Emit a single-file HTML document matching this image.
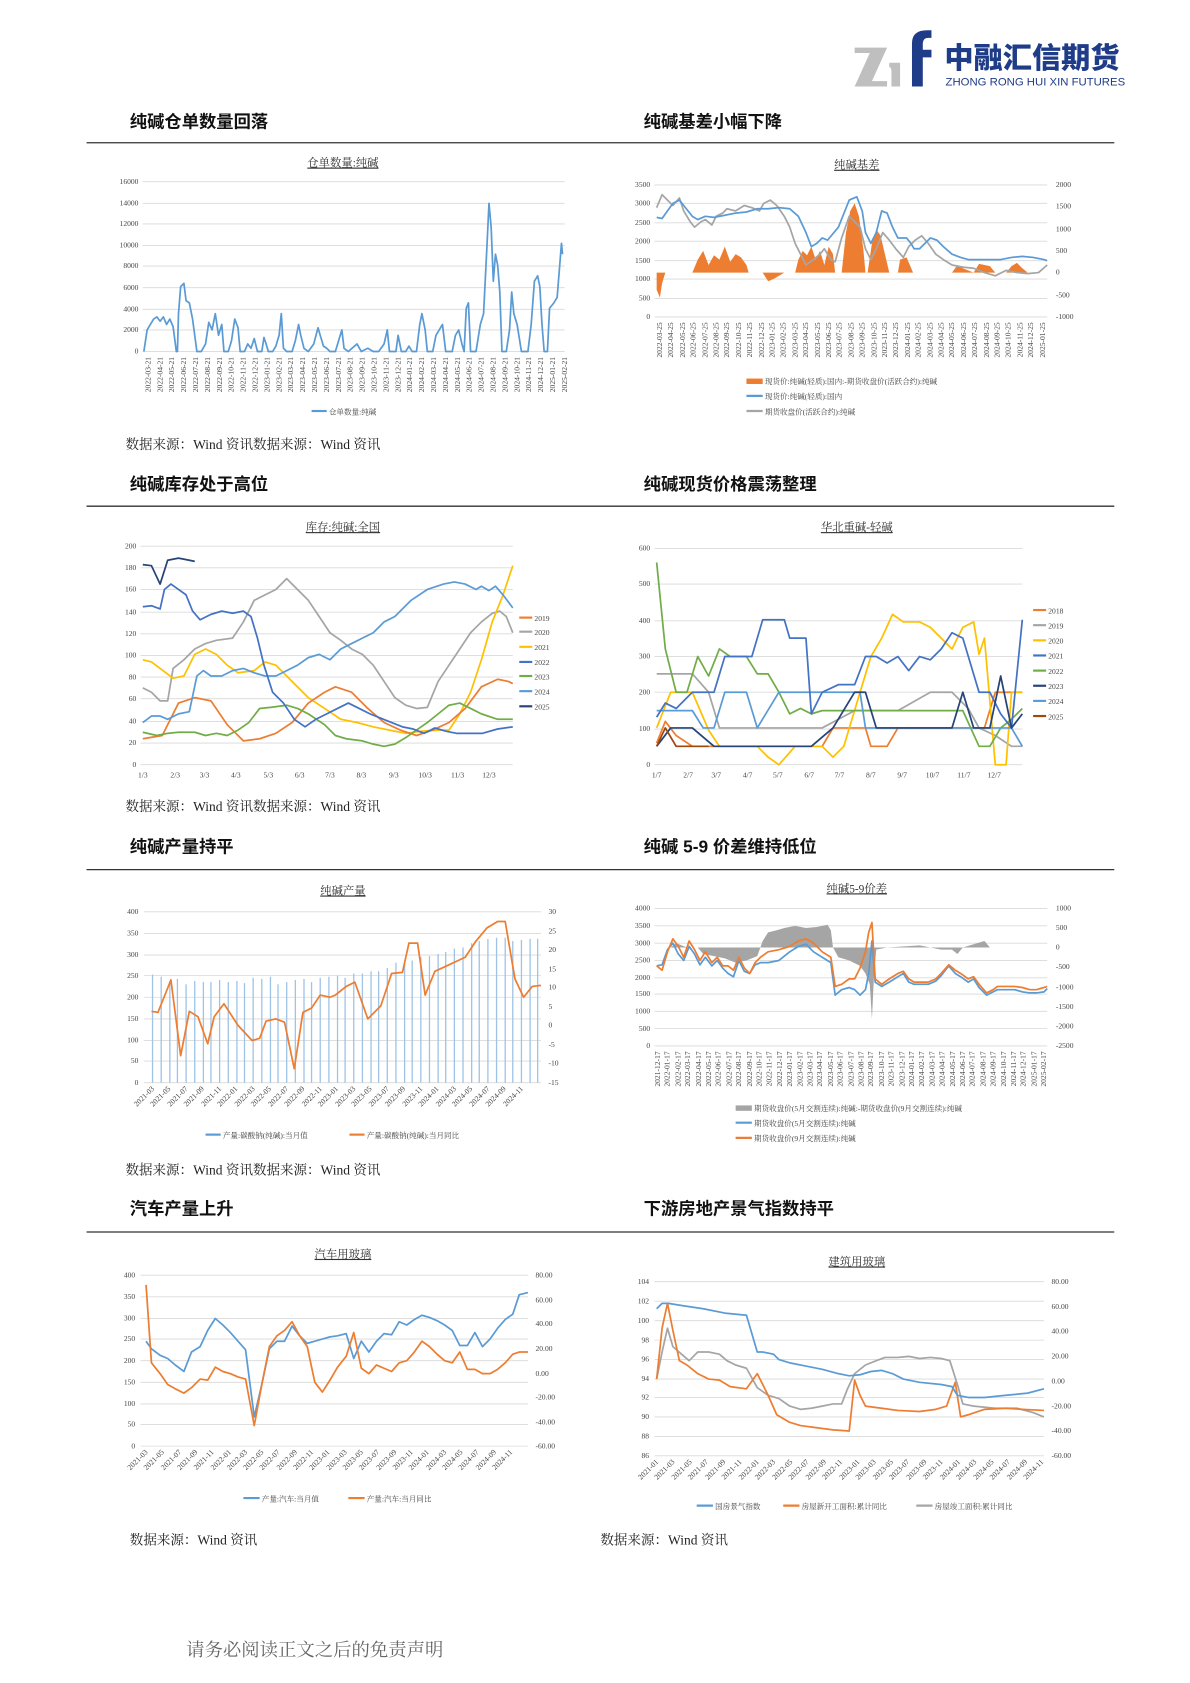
<!DOCTYPE html>
<html><head><meta charset="utf-8">
<style>
html,body{margin:0;padding:0;background:#fff;}
svg{display:block;}
.t{font-family:"Liberation Sans","Noto Sans CJK SC",sans-serif;font-weight:bold;font-size:16px;fill:#111;}
.s{font-family:"Liberation Serif","Noto Serif CJK SC",serif;font-size:12.5px;fill:#222;}
.ct{font-family:"Liberation Serif","Noto Serif CJK SC",serif;font-size:10.5px;fill:#333;text-decoration:underline;}
.a{font-family:"Liberation Serif","Noto Serif CJK SC",serif;font-size:7px;fill:#444;}
.l{font-family:"Liberation Serif","Noto Serif CJK SC",serif;font-size:7px;fill:#444;}
.g{stroke:#d9d9d9;stroke-width:0.8;}
.ln{fill:none;stroke-width:1.6;stroke-linejoin:round;}
</style></head><body>
<svg width="1190" height="1683" viewBox="0 0 1100 1556" preserveAspectRatio="none" xmlns="http://www.w3.org/2000/svg">
<!-- logo -->
<polygon points="790,44 820,44 806,75 820,75 820,80 790,80 804,49 790,49" fill="#bfbfbf"/>
<path d="M822,58 h10 v22 h-8 v-14 q0,-4 -2,-4z" fill="#bfbfbf"/>
<path d="M843,80 V40 q0,-12 14,-12 h4 v7 h-3 q-5,0 -5,6 v5 h8 v7 h-8 v27z" fill="#1f3c88"/>
<text x="873" y="63" style="font-family:'Noto Sans CJK SC',sans-serif;font-weight:900;font-size:27px;fill:#1f3c88">中融汇信期货</text>
<text x="874" y="79" style="font-family:'Liberation Sans',sans-serif;font-size:10.5px;fill:#1f3c88">ZHONG RONG HUI XIN FUTURES</text>

<!-- titles -->
<text class="t" x="120" y="118">纯碱仓单数量回落</text>
<text class="t" x="595" y="118">纯碱基差小幅下降</text>
<line x1="80" y1="132" x2="1030" y2="132" stroke="#333" stroke-width="1.2"/>
<text class="t" x="120" y="453">纯碱库存处于高位</text>
<text class="t" x="595" y="453">纯碱现货价格震荡整理</text>
<line x1="80" y1="468" x2="1030" y2="468" stroke="#333" stroke-width="1.2"/>
<text class="t" x="120" y="788">纯碱产量持平</text>
<text class="t" x="595" y="788">纯碱 5-9 价差维持低位</text>
<line x1="80" y1="804" x2="1030" y2="804" stroke="#333" stroke-width="1.2"/>
<text class="t" x="120" y="1123">汽车产量上升</text>
<text class="t" x="595" y="1123">下游房地产景气指数持平</text>
<line x1="80" y1="1139" x2="1030" y2="1139" stroke="#333" stroke-width="1.2"/>

<text class="s" x="116" y="415">数据来源：Wind 资讯数据来源：Wind 资讯</text>
<text class="s" x="116" y="750">数据来源：Wind 资讯数据来源：Wind 资讯</text>
<text class="s" x="116" y="1086">数据来源：Wind 资讯数据来源：Wind 资讯</text>
<text class="s" x="120" y="1428">数据来源：Wind 资讯</text>
<text class="s" x="555" y="1428">数据来源：Wind 资讯</text>
<text x="172" y="1531" style="font-family:'Liberation Serif','Noto Serif CJK SC',serif;font-size:17px;fill:#666">请务必阅读正文之后的免责声明</text>

<!-- ===== Chart 1 ===== -->
<text class="ct" x="317" y="154" text-anchor="middle">仓单数量:纯碱</text>
<g class="g"><line x1="132" x2="522" y1="168" y2="168"/><line x1="132" x2="522" y1="188" y2="188"/><line x1="132" x2="522" y1="207" y2="207"/><line x1="132" x2="522" y1="227" y2="227"/><line x1="132" x2="522" y1="246" y2="246"/><line x1="132" x2="522" y1="266" y2="266"/><line x1="132" x2="522" y1="286" y2="286"/><line x1="132" x2="522" y1="305" y2="305"/><line x1="132" x2="522" y1="325" y2="325"/></g>
<g class="a" text-anchor="end"><text x="128" y="170">16000</text><text x="128" y="190">14000</text><text x="128" y="209">12000</text><text x="128" y="229">10000</text><text x="128" y="248">8000</text><text x="128" y="268">6000</text><text x="128" y="288">4000</text><text x="128" y="307">2000</text><text x="128" y="327">0</text></g>
<polyline class="ln" stroke="#5B9BD5" points="133,325 136,305 139,300 142,295 145,293 148,297 151,293 154,300 157,295 160,302 163,325 164,325 165,290 167,265 170,262 172,278 175,280 178,295 180,310 182,325 186,325 190,318 193,298 196,305 199,290 202,310 205,300 207,325 211,325 214,315 217,295 220,303 222,325 226,325 229,318 232,322 235,313 238,325 242,325 244,312 246,318 248,325 252,325 255,320 258,310 260,290 262,322 265,325 270,325 273,315 276,300 278,310 281,322 285,325 290,318 294,303 296,310 299,320 302,322 305,325 310,325 313,315 316,305 318,322 322,325 330,318 334,325 340,322 345,325 350,325 355,318 358,305 360,325 366,325 368,310 371,325 375,325 378,320 381,325 385,325 388,300 390,290 393,305 395,325 400,325 403,310 406,305 409,300 412,325 418,325 421,310 424,305 427,318 429,325 431,285 433,280 435,325 440,325 444,300 447,290 450,230 452,188 454,210 456,260 458,235 460,245 462,270 464,325 468,325 471,305 473,270 475,290 478,300 482,325 488,325 491,300 494,260 497,255 499,265 501,300 503,325 506,325 508,285 512,280 515,275 517,250 519,225 520,235"/>
<g class="a">
<text transform="translate(139,330) rotate(-90)" text-anchor="end">2022-03-21</text><text transform="translate(150,330) rotate(-90)" text-anchor="end">2022-04-21</text><text transform="translate(161,330) rotate(-90)" text-anchor="end">2022-05-21</text><text transform="translate(172,330) rotate(-90)" text-anchor="end">2022-06-21</text><text transform="translate(183,330) rotate(-90)" text-anchor="end">2022-07-21</text><text transform="translate(194,330) rotate(-90)" text-anchor="end">2022-08-21</text><text transform="translate(205,330) rotate(-90)" text-anchor="end">2022-09-21</text><text transform="translate(216,330) rotate(-90)" text-anchor="end">2022-10-21</text><text transform="translate(227,330) rotate(-90)" text-anchor="end">2022-11-21</text><text transform="translate(238,330) rotate(-90)" text-anchor="end">2022-12-21</text><text transform="translate(249,330) rotate(-90)" text-anchor="end">2023-01-21</text><text transform="translate(260,330) rotate(-90)" text-anchor="end">2023-02-21</text><text transform="translate(271,330) rotate(-90)" text-anchor="end">2023-03-21</text><text transform="translate(282,330) rotate(-90)" text-anchor="end">2023-04-21</text><text transform="translate(293,330) rotate(-90)" text-anchor="end">2023-05-21</text><text transform="translate(304,330) rotate(-90)" text-anchor="end">2023-06-21</text><text transform="translate(315,330) rotate(-90)" text-anchor="end">2023-07-21</text><text transform="translate(326,330) rotate(-90)" text-anchor="end">2023-08-21</text><text transform="translate(337,330) rotate(-90)" text-anchor="end">2023-09-21</text><text transform="translate(348,330) rotate(-90)" text-anchor="end">2023-10-21</text><text transform="translate(359,330) rotate(-90)" text-anchor="end">2023-11-21</text><text transform="translate(370,330) rotate(-90)" text-anchor="end">2023-12-21</text><text transform="translate(381,330) rotate(-90)" text-anchor="end">2024-01-21</text><text transform="translate(392,330) rotate(-90)" text-anchor="end">2024-02-21</text><text transform="translate(403,330) rotate(-90)" text-anchor="end">2024-03-21</text><text transform="translate(414,330) rotate(-90)" text-anchor="end">2024-04-21</text><text transform="translate(425,330) rotate(-90)" text-anchor="end">2024-05-21</text><text transform="translate(436,330) rotate(-90)" text-anchor="end">2024-06-21</text><text transform="translate(447,330) rotate(-90)" text-anchor="end">2024-07-21</text><text transform="translate(458,330) rotate(-90)" text-anchor="end">2024-08-21</text><text transform="translate(469,330) rotate(-90)" text-anchor="end">2024-09-21</text><text transform="translate(480,330) rotate(-90)" text-anchor="end">2024-10-21</text><text transform="translate(491,330) rotate(-90)" text-anchor="end">2024-11-21</text><text transform="translate(502,330) rotate(-90)" text-anchor="end">2024-12-21</text><text transform="translate(513,330) rotate(-90)" text-anchor="end">2025-01-21</text><text transform="translate(524,330) rotate(-90)" text-anchor="end">2025-02-21</text>
</g>
<line x1="288" y1="380" x2="302" y2="380" stroke="#5B9BD5" stroke-width="2"/><text class="l" x="304" y="383">仓单数量:纯碱</text>

<!-- ===== Chart 2 ===== -->
<text class="ct" x="792" y="156" text-anchor="middle">纯碱基差</text>
<g class="g"><line x1="605" x2="968" y1="171" y2="171"/><line x1="605" x2="968" y1="188" y2="188"/><line x1="605" x2="968" y1="206" y2="206"/><line x1="605" x2="968" y1="223" y2="223"/><line x1="605" x2="968" y1="241" y2="241"/><line x1="605" x2="968" y1="258" y2="258"/><line x1="605" x2="968" y1="276" y2="276"/><line x1="605" x2="968" y1="293" y2="293"/></g>
<g class="a" text-anchor="end"><text x="601" y="173">3500</text><text x="601" y="190">3000</text><text x="601" y="208">2500</text><text x="601" y="225">2000</text><text x="601" y="243">1500</text><text x="601" y="260">1000</text><text x="601" y="278">500</text><text x="601" y="295">0</text></g>
<g class="a"><text x="976" y="173">2000</text><text x="976" y="193">1500</text><text x="976" y="214">1000</text><text x="976" y="234">500</text><text x="976" y="254">0</text><text x="976" y="275">-500</text><text x="976" y="295">-1000</text></g>
<polygon fill="#ED7D31" points="607,252 607,268 610,275 612,262 615,252 640,252 645,240 650,232 655,245 660,236 665,240 670,228 675,242 680,235 685,238 690,245 692,252 705,252 710,260 715,258 720,255 725,252 735,252 738,240 742,232 746,236 750,228 754,240 758,232 762,245 766,228 770,235 772,252 778,252 782,215 786,195 790,188 794,200 798,230 800,252 802,252 806,225 810,212 814,218 818,235 822,252 830,252 832,240 838,238 844,252 880,252 885,245 890,248 900,252 905,244 910,245 915,246 920,252 930,252 935,246 940,243 945,248 950,252 968,252"/>
<polyline class="ln" stroke="#A5A5A5" points="607,192 612,180 617,185 622,190 628,183 632,195 638,205 642,210 648,205 652,203 658,208 662,200 668,197 672,193 680,195 688,190 695,192 702,195 706,188 712,185 718,190 725,200 730,210 735,225 740,235 745,245 752,240 758,235 762,230 768,240 772,242 778,220 785,200 790,205 795,210 800,230 805,240 810,230 816,215 822,222 828,230 835,238 840,228 846,222 852,218 858,225 865,235 872,240 880,245 890,247 900,248 910,252 920,255 930,250 940,252 950,253 960,252 968,245"/>
<polyline class="ln" stroke="#5B9BD5" points="607,201 612,202 617,195 622,188 628,185 632,190 640,200 645,203 652,200 660,201 670,199 680,197 690,196 700,193 710,193 720,192 730,193 738,200 745,215 750,228 755,225 760,220 765,222 775,210 785,185 792,182 797,195 800,215 805,225 810,215 815,195 820,197 825,210 830,220 838,220 842,225 845,230 850,230 855,225 860,220 866,222 872,228 880,235 888,238 895,240 905,240 915,240 925,240 935,238 945,237 955,238 965,240 968,241"/>
<g class="a">
<text transform="translate(612,298) rotate(-90)" text-anchor="end">2022-03-25</text><text transform="translate(622,298) rotate(-90)" text-anchor="end">2022-04-25</text><text transform="translate(633,298) rotate(-90)" text-anchor="end">2022-05-25</text><text transform="translate(643,298) rotate(-90)" text-anchor="end">2022-06-25</text><text transform="translate(654,298) rotate(-90)" text-anchor="end">2022-07-25</text><text transform="translate(664,298) rotate(-90)" text-anchor="end">2022-08-25</text><text transform="translate(674,298) rotate(-90)" text-anchor="end">2022-09-25</text><text transform="translate(685,298) rotate(-90)" text-anchor="end">2022-10-25</text><text transform="translate(695,298) rotate(-90)" text-anchor="end">2022-11-25</text><text transform="translate(706,298) rotate(-90)" text-anchor="end">2022-12-25</text><text transform="translate(716,298) rotate(-90)" text-anchor="end">2023-01-25</text><text transform="translate(726,298) rotate(-90)" text-anchor="end">2023-02-25</text><text transform="translate(737,298) rotate(-90)" text-anchor="end">2023-03-25</text><text transform="translate(747,298) rotate(-90)" text-anchor="end">2023-04-25</text><text transform="translate(758,298) rotate(-90)" text-anchor="end">2023-05-25</text><text transform="translate(768,298) rotate(-90)" text-anchor="end">2023-06-25</text><text transform="translate(778,298) rotate(-90)" text-anchor="end">2023-07-25</text><text transform="translate(789,298) rotate(-90)" text-anchor="end">2023-08-25</text><text transform="translate(799,298) rotate(-90)" text-anchor="end">2023-09-25</text><text transform="translate(810,298) rotate(-90)" text-anchor="end">2023-10-25</text><text transform="translate(820,298) rotate(-90)" text-anchor="end">2023-11-25</text><text transform="translate(830,298) rotate(-90)" text-anchor="end">2023-12-25</text><text transform="translate(841,298) rotate(-90)" text-anchor="end">2024-01-25</text><text transform="translate(851,298) rotate(-90)" text-anchor="end">2024-02-25</text><text transform="translate(862,298) rotate(-90)" text-anchor="end">2024-03-25</text><text transform="translate(872,298) rotate(-90)" text-anchor="end">2024-04-25</text><text transform="translate(882,298) rotate(-90)" text-anchor="end">2024-05-25</text><text transform="translate(893,298) rotate(-90)" text-anchor="end">2024-06-25</text><text transform="translate(903,298) rotate(-90)" text-anchor="end">2024-07-25</text><text transform="translate(914,298) rotate(-90)" text-anchor="end">2024-08-25</text><text transform="translate(924,298) rotate(-90)" text-anchor="end">2024-09-25</text><text transform="translate(934,298) rotate(-90)" text-anchor="end">2024-10-25</text><text transform="translate(945,298) rotate(-90)" text-anchor="end">2024-11-25</text><text transform="translate(955,298) rotate(-90)" text-anchor="end">2024-12-25</text><text transform="translate(966,298) rotate(-90)" text-anchor="end">2025-01-25</text>
</g>
<rect x="690" y="350" width="15" height="5" fill="#ED7D31"/><text class="l" x="707" y="355">现货价:纯碱(轻质):国内:-期货收盘价(活跃合约):纯碱</text>
<line x1="690" y1="366" x2="705" y2="366" stroke="#5B9BD5" stroke-width="2"/><text class="l" x="707" y="369">现货价:纯碱(轻质):国内</text>
<line x1="690" y1="380" x2="705" y2="380" stroke="#A5A5A5" stroke-width="2"/><text class="l" x="707" y="383">期货收盘价(活跃合约):纯碱</text>

<!-- ===== Chart 3 ===== -->
<text class="ct" x="317" y="491" text-anchor="middle">库存:纯碱:全国</text>
<g class="g"><line x1="130" x2="474" y1="505" y2="505"/><line x1="130" x2="474" y1="525" y2="525"/><line x1="130" x2="474" y1="545" y2="545"/><line x1="130" x2="474" y1="566" y2="566"/><line x1="130" x2="474" y1="586" y2="586"/><line x1="130" x2="474" y1="606" y2="606"/><line x1="130" x2="474" y1="626" y2="626"/><line x1="130" x2="474" y1="646" y2="646"/><line x1="130" x2="474" y1="667" y2="667"/><line x1="130" x2="474" y1="687" y2="687"/><line x1="130" x2="474" y1="707" y2="707"/></g>
<g class="a" text-anchor="end"><text x="126" y="507">200</text><text x="126" y="527">180</text><text x="126" y="547">160</text><text x="126" y="568">140</text><text x="126" y="588">120</text><text x="126" y="608">100</text><text x="126" y="628">80</text><text x="126" y="648">60</text><text x="126" y="669">40</text><text x="126" y="689">20</text><text x="126" y="709">0</text></g>
<g class="a" text-anchor="middle"><text x="132" y="719">1/3</text><text x="162" y="719">2/3</text><text x="189" y="719">3/3</text><text x="218" y="719">4/3</text><text x="248" y="719">5/3</text><text x="277" y="719">6/3</text><text x="305" y="719">7/3</text><text x="334" y="719">8/3</text><text x="364" y="719">9/3</text><text x="393" y="719">10/3</text><text x="423" y="719">11/3</text><text x="452" y="719">12/3</text></g>
<polyline class="ln" stroke="#A5A5A5" points="132,636 140,640 148,648 155,648 160,618 170,610 180,600 190,595 200,592 215,590 225,575 235,555 245,550 255,545 265,535 275,545 285,555 295,570 305,585 315,592 325,600 335,605 345,615 355,630 365,645 375,652 385,655 395,654 405,630 415,615 425,600 435,585 445,575 455,567 462,565 468,570 474,585"/>
<polyline class="ln" stroke="#FFC000" points="132,610 140,612 148,618 160,627 170,625 180,605 190,600 200,605 210,615 220,622 235,620 245,612 255,615 265,625 275,635 285,645 300,655 315,665 330,668 345,672 360,675 375,678 390,676 405,675 415,675 425,660 435,640 445,610 455,575 465,550 474,523"/>
<polyline class="ln" stroke="#ED7D31" points="132,683 150,680 165,650 180,645 195,648 210,670 225,685 240,683 255,678 270,668 285,650 300,640 310,635 325,640 340,655 355,668 370,675 385,680 400,675 415,668 430,655 445,635 460,628 470,630 474,632"/>
<polyline class="ln" stroke="#70AD47" points="132,677 145,680 155,678 165,677 180,677 190,680 200,678 210,680 220,675 230,668 240,655 250,654 265,652 275,655 285,660 300,670 310,680 320,683 335,685 345,688 355,690 365,688 375,682 385,675 395,668 405,660 415,652 425,650 435,655 445,660 460,665 474,665"/>
<polyline class="ln" stroke="#5B9BD5" points="132,668 140,662 148,662 155,665 165,660 175,658 182,625 188,620 195,625 205,625 215,620 225,618 235,622 245,625 255,625 265,620 275,615 285,608 295,605 305,610 315,600 325,595 335,590 345,585 355,575 365,570 380,555 395,545 410,540 420,538 430,540 440,545 445,542 452,546 458,542 465,550 474,562"/>
<polyline class="ln" stroke="#4472C4" points="132,561 140,560 148,563 152,545 158,540 165,545 172,550 178,565 185,573 195,568 205,565 215,567 225,565 232,570 238,590 244,615 252,640 262,650 272,665 282,672 292,665 302,660 312,655 322,650 332,655 342,660 352,664 362,668 372,672 382,674 392,678 402,673 412,676 422,678 434,678 446,678 460,674 474,672"/>
<polyline class="ln" stroke="#264478" points="132,522 140,523 148,540 155,518 165,516 175,518 180,519"/>
<g class="l">
<line x1="480" y1="571" x2="492" y2="571" stroke="#ED7D31" stroke-width="2"/><text x="494" y="574">2019</text>
<line x1="480" y1="584" x2="492" y2="584" stroke="#A5A5A5" stroke-width="2"/><text x="494" y="587">2020</text>
<line x1="480" y1="598" x2="492" y2="598" stroke="#FFC000" stroke-width="2"/><text x="494" y="601">2021</text>
<line x1="480" y1="612" x2="492" y2="612" stroke="#4472C4" stroke-width="2"/><text x="494" y="615">2022</text>
<line x1="480" y1="625" x2="492" y2="625" stroke="#70AD47" stroke-width="2"/><text x="494" y="628">2023</text>
<line x1="480" y1="639" x2="492" y2="639" stroke="#5B9BD5" stroke-width="2"/><text x="494" y="642">2024</text>
<line x1="480" y1="653" x2="492" y2="653" stroke="#264478" stroke-width="2"/><text x="494" y="656">2025</text>
</g>

<!-- ===== Chart 4 ===== -->
<text class="ct" x="792" y="491" text-anchor="middle">华北重碱-轻碱</text>
<g class="g"><line x1="605" x2="945" y1="507" y2="507"/><line x1="605" x2="945" y1="540" y2="540"/><line x1="605" x2="945" y1="574" y2="574"/><line x1="605" x2="945" y1="607" y2="607"/><line x1="605" x2="945" y1="640" y2="640"/><line x1="605" x2="945" y1="674" y2="674"/><line x1="605" x2="945" y1="707" y2="707"/></g>
<g class="a" text-anchor="end"><text x="601" y="509">600</text><text x="601" y="542">500</text><text x="601" y="576">400</text><text x="601" y="609">300</text><text x="601" y="642">200</text><text x="601" y="676">100</text><text x="601" y="709">0</text></g>
<g class="a" text-anchor="middle"><text x="607" y="719">1/7</text><text x="636" y="719">2/7</text><text x="662" y="719">3/7</text><text x="691" y="719">4/7</text><text x="719" y="719">5/7</text><text x="748" y="719">6/7</text><text x="776" y="719">7/7</text><text x="805" y="719">8/7</text><text x="834" y="719">9/7</text><text x="862" y="719">10/7</text><text x="891" y="719">11/7</text><text x="919" y="719">12/7</text></g>
<polyline class="ln" stroke="#A5A5A5" points="607,623 640,623 655,640 665,673 700,673 740,673 760,673 790,657 810,657 830,657 860,640 880,640 895,655 905,673 920,680 935,690 945,690"/>
<polyline class="ln" stroke="#ED7D31" points="607,687 615,667 625,680 640,690 660,690 700,690 740,690 760,690 770,673 800,673 805,690 820,690 830,673 850,673 900,673 910,673 920,640 945,640"/>
<polyline class="ln" stroke="#FFC000" points="607,673 620,640 640,640 655,675 665,690 680,690 700,690 710,700 720,707 735,690 750,690 760,690 770,700 780,690 795,640 805,607 815,590 825,568 835,575 850,575 860,580 870,590 880,600 890,580 900,575 905,605 910,590 920,707 930,707 935,640 945,640"/>
<polyline class="ln" stroke="#70AD47" points="607,520 615,600 625,640 635,640 645,607 655,625 665,600 675,607 690,607 700,623 710,623 720,640 730,660 740,655 750,660 760,657 775,657 790,657 810,657 830,657 850,657 870,657 890,657 905,690 915,690 925,673 935,665 945,655"/>
<polyline class="ln" stroke="#5B9BD5" points="607,657 640,657 650,673 660,673 670,640 690,640 700,673 720,640 760,640 780,640 795,640 800,673 840,673 880,673 900,673 920,673 935,673 945,690"/>
<polyline class="ln" stroke="#4472C4" points="607,663 615,650 625,655 640,640 660,640 670,607 680,607 695,607 705,573 715,573 725,573 730,590 745,590 750,660 760,640 775,633 790,633 800,607 810,607 820,613 830,607 840,620 850,607 860,610 870,600 880,585 890,590 905,640 915,640 925,660 935,673 945,573"/>
<polyline class="ln" stroke="#264478" points="607,690 620,673 640,673 660,690 680,690 720,690 750,690 770,673 790,640 800,640 810,673 825,673 840,673 860,673 880,673 890,640 900,673 915,673 925,625 935,673 945,660"/>
<polyline class="ln" stroke="#9E480E" points="607,690 615,673 625,690 645,690 655,690"/>
<g class="l">
<line x1="955" y1="564" x2="967" y2="564" stroke="#ED7D31" stroke-width="2"/><text x="969" y="567">2018</text>
<line x1="955" y1="578" x2="967" y2="578" stroke="#A5A5A5" stroke-width="2"/><text x="969" y="581">2019</text>
<line x1="955" y1="592" x2="967" y2="592" stroke="#FFC000" stroke-width="2"/><text x="969" y="595">2020</text>
<line x1="955" y1="606" x2="967" y2="606" stroke="#4472C4" stroke-width="2"/><text x="969" y="609">2021</text>
<line x1="955" y1="620" x2="967" y2="620" stroke="#70AD47" stroke-width="2"/><text x="969" y="623">2022</text>
<line x1="955" y1="634" x2="967" y2="634" stroke="#264478" stroke-width="2"/><text x="969" y="637">2023</text>
<line x1="955" y1="648" x2="967" y2="648" stroke="#5B9BD5" stroke-width="2"/><text x="969" y="651">2024</text>
<line x1="955" y1="662" x2="967" y2="662" stroke="#9E480E" stroke-width="2"/><text x="969" y="665">2025</text>
</g>

<!-- ===== Chart 5 ===== -->
<text class="ct" x="317" y="827" text-anchor="middle">纯碱产量</text>
<g class="g"><line x1="133" x2="500" y1="843" y2="843"/><line x1="133" x2="500" y1="863" y2="863"/><line x1="133" x2="500" y1="883" y2="883"/><line x1="133" x2="500" y1="902" y2="902"/><line x1="133" x2="500" y1="922" y2="922"/><line x1="133" x2="500" y1="942" y2="942"/><line x1="133" x2="500" y1="962" y2="962"/><line x1="133" x2="500" y1="981" y2="981"/><line x1="133" x2="500" y1="1001" y2="1001"/></g>
<g class="a" text-anchor="end"><text x="128" y="845">400</text><text x="128" y="865">350</text><text x="128" y="885">300</text><text x="128" y="904">250</text><text x="128" y="924">200</text><text x="128" y="944">150</text><text x="128" y="964">100</text><text x="128" y="983">50</text><text x="128" y="1003">0</text></g>
<g class="a"><text x="507" y="845">30</text><text x="507" y="863">25</text><text x="507" y="880">20</text><text x="507" y="898">15</text><text x="507" y="915">10</text><text x="507" y="933">5</text><text x="507" y="950">0</text><text x="507" y="968">-5</text><text x="507" y="985">-10</text><text x="507" y="1003">-15</text></g>
<g stroke="#9DC3E6" stroke-width="1.2">
<line x1="141" y1="1001" x2="141" y2="901"/><line x1="149" y1="1001" x2="149" y2="903"/><line x1="157" y1="1001" x2="157" y2="907"/><line x1="164" y1="1001" x2="164" y2="905"/><line x1="172" y1="1001" x2="172" y2="910"/><line x1="180" y1="1001" x2="180" y2="907"/><line x1="188" y1="1001" x2="188" y2="908"/><line x1="195" y1="1001" x2="195" y2="908"/><line x1="203" y1="1001" x2="203" y2="906"/><line x1="211" y1="1001" x2="211" y2="908"/><line x1="219" y1="1001" x2="219" y2="907"/><line x1="226" y1="1001" x2="226" y2="909"/><line x1="234" y1="1001" x2="234" y2="904"/><line x1="242" y1="1001" x2="242" y2="905"/><line x1="250" y1="1001" x2="250" y2="903"/><line x1="257" y1="1001" x2="257" y2="910"/><line x1="265" y1="1001" x2="265" y2="908"/><line x1="273" y1="1001" x2="273" y2="906"/><line x1="281" y1="1001" x2="281" y2="905"/><line x1="288" y1="1001" x2="288" y2="908"/><line x1="296" y1="1001" x2="296" y2="904"/><line x1="304" y1="1001" x2="304" y2="903"/><line x1="312" y1="1001" x2="312" y2="902"/><line x1="319" y1="1001" x2="319" y2="904"/><line x1="327" y1="1001" x2="327" y2="900"/><line x1="335" y1="1001" x2="335" y2="900"/><line x1="343" y1="1001" x2="343" y2="898"/><line x1="350" y1="1001" x2="350" y2="898"/><line x1="358" y1="1001" x2="358" y2="895"/><line x1="366" y1="1001" x2="366" y2="890"/><line x1="374" y1="1001" x2="374" y2="890"/><line x1="381" y1="1001" x2="381" y2="888"/><line x1="389" y1="1001" x2="389" y2="885"/><line x1="397" y1="1001" x2="397" y2="884"/><line x1="405" y1="1001" x2="405" y2="882"/><line x1="412" y1="1001" x2="412" y2="880"/><line x1="420" y1="1001" x2="420" y2="877"/><line x1="428" y1="1001" x2="428" y2="876"/><line x1="436" y1="1001" x2="436" y2="872"/><line x1="443" y1="1001" x2="443" y2="870"/><line x1="451" y1="1001" x2="451" y2="868"/><line x1="459" y1="1001" x2="459" y2="867"/><line x1="467" y1="1001" x2="467" y2="867"/><line x1="474" y1="1001" x2="474" y2="870"/><line x1="482" y1="1001" x2="482" y2="869"/><line x1="490" y1="1001" x2="490" y2="868"/><line x1="497" y1="1001" x2="497" y2="868"/>
</g>
<polyline class="ln" stroke="#ED7D31" points="140,935 146,936 158,906 167,976 175,935 183,940 192,965 198,940 207,928 220,948 233,962 240,960 246,944 255,942 263,945 272,988 280,936 288,932 296,920 305,922 310,920 320,912 328,908 340,942 352,930 362,900 372,899 378,872 386,872 393,920 402,898 415,892 430,885 440,870 450,858 460,852 467,852 476,905 484,922 492,912 500,911"/>
<g class="a" text-anchor="end">
<text transform="translate(143,1007) rotate(-45)">2021-03</text><text transform="translate(158,1007) rotate(-45)">2021-05</text><text transform="translate(174,1007) rotate(-45)">2021-07</text><text transform="translate(189,1007) rotate(-45)">2021-09</text><text transform="translate(205,1007) rotate(-45)">2021-11</text><text transform="translate(220,1007) rotate(-45)">2022-01</text><text transform="translate(236,1007) rotate(-45)">2022-03</text><text transform="translate(251,1007) rotate(-45)">2022-05</text><text transform="translate(267,1007) rotate(-45)">2022-07</text><text transform="translate(282,1007) rotate(-45)">2022-09</text><text transform="translate(298,1007) rotate(-45)">2022-11</text><text transform="translate(313,1007) rotate(-45)">2023-01</text><text transform="translate(329,1007) rotate(-45)">2023-03</text><text transform="translate(344,1007) rotate(-45)">2023-05</text><text transform="translate(360,1007) rotate(-45)">2023-07</text><text transform="translate(375,1007) rotate(-45)">2023-09</text><text transform="translate(391,1007) rotate(-45)">2023-11</text><text transform="translate(406,1007) rotate(-45)">2024-01</text><text transform="translate(422,1007) rotate(-45)">2024-03</text><text transform="translate(437,1007) rotate(-45)">2024-05</text><text transform="translate(453,1007) rotate(-45)">2024-07</text><text transform="translate(468,1007) rotate(-45)">2024-09</text><text transform="translate(484,1007) rotate(-45)">2024-11</text>
</g>
<line x1="190" y1="1049" x2="204" y2="1049" stroke="#5B9BD5" stroke-width="2"/><text class="l" x="206" y="1052">产量:碳酸钠(纯碱):当月值</text>
<line x1="323" y1="1049" x2="337" y2="1049" stroke="#ED7D31" stroke-width="2"/><text class="l" x="339" y="1052">产量:碳酸钠(纯碱):当月同比</text>

<!-- ===== Chart 6 ===== -->
<text class="ct" x="792" y="825" text-anchor="middle">纯碱5-9价差</text>
<g class="g"><line x1="605" x2="968" y1="840" y2="840"/><line x1="605" x2="968" y1="856" y2="856"/><line x1="605" x2="968" y1="872" y2="872"/><line x1="605" x2="968" y1="888" y2="888"/><line x1="605" x2="968" y1="904" y2="904"/><line x1="605" x2="968" y1="919" y2="919"/><line x1="605" x2="968" y1="935" y2="935"/><line x1="605" x2="968" y1="951" y2="951"/><line x1="605" x2="968" y1="967" y2="967"/></g>
<g class="a" text-anchor="end"><text x="601" y="842">4000</text><text x="601" y="858">3500</text><text x="601" y="874">3000</text><text x="601" y="890">2500</text><text x="601" y="906">2000</text><text x="601" y="921">1500</text><text x="601" y="937">1000</text><text x="601" y="953">500</text><text x="601" y="969">0</text></g>
<g class="a"><text x="976" y="842">1000</text><text x="976" y="860">500</text><text x="976" y="878">0</text><text x="976" y="896">-500</text><text x="976" y="915">-1000</text><text x="976" y="933">-1500</text><text x="976" y="951">-2000</text><text x="976" y="969">-2500</text></g>
<polygon fill="#A5A5A5" points="607,876 620,876 625,872 635,876 645,876 650,882 660,884 670,886 680,890 690,888 700,884 705,870 710,862 718,860 725,858 735,856 745,858 755,857 765,855 768,860 770,876 775,885 785,888 795,893 800,900 804,910 806,942 808,900 810,878 820,876 850,874 870,878 880,878 885,882 890,876 910,870 915,876 968,876"/>
<polyline class="ln" stroke="#5B9BD5" points="607,893 612,892 617,878 622,872 627,882 632,888 637,875 642,882 647,892 652,885 658,893 663,888 668,895 673,900 678,903 683,888 688,898 693,900 698,892 703,890 710,890 720,888 730,880 738,875 745,873 752,880 760,885 768,890 772,920 778,915 785,913 790,915 795,920 800,915 803,900 806,870 809,908 815,912 822,908 830,903 835,900 840,908 845,910 850,910 858,910 865,907 870,902 877,893 883,900 888,903 895,908 900,905 905,913 912,920 918,917 922,915 930,915 938,915 945,917 952,918 958,918 965,917 968,914"/>
<polyline class="ln" stroke="#ED7D31" points="607,893 612,897 617,880 622,868 627,875 632,885 637,870 642,878 647,888 652,880 658,890 663,885 668,893 673,893 678,897 683,885 688,895 693,900 698,890 703,885 710,880 720,878 730,875 738,870 745,868 752,872 760,880 768,885 772,912 778,910 785,905 790,905 795,895 800,880 803,862 806,853 809,905 815,910 822,905 830,900 835,898 840,905 845,908 850,908 858,908 865,905 870,900 877,892 883,897 888,900 895,905 900,903 905,910 912,918 918,915 922,912 930,912 938,912 945,913 952,915 958,915 965,913 968,912"/>
<g class="a">
<text transform="translate(610,972) rotate(-90)" text-anchor="end">2021-12-17</text><text transform="translate(619,972) rotate(-90)" text-anchor="end">2022-01-17</text><text transform="translate(629,972) rotate(-90)" text-anchor="end">2022-02-17</text><text transform="translate(638,972) rotate(-90)" text-anchor="end">2022-03-17</text><text transform="translate(648,972) rotate(-90)" text-anchor="end">2022-04-17</text><text transform="translate(657,972) rotate(-90)" text-anchor="end">2022-05-17</text><text transform="translate(666,972) rotate(-90)" text-anchor="end">2022-06-17</text><text transform="translate(676,972) rotate(-90)" text-anchor="end">2022-07-17</text><text transform="translate(685,972) rotate(-90)" text-anchor="end">2022-08-17</text><text transform="translate(695,972) rotate(-90)" text-anchor="end">2022-09-17</text><text transform="translate(704,972) rotate(-90)" text-anchor="end">2022-10-17</text><text transform="translate(713,972) rotate(-90)" text-anchor="end">2022-11-17</text><text transform="translate(723,972) rotate(-90)" text-anchor="end">2022-12-17</text><text transform="translate(732,972) rotate(-90)" text-anchor="end">2023-01-17</text><text transform="translate(742,972) rotate(-90)" text-anchor="end">2023-02-17</text><text transform="translate(751,972) rotate(-90)" text-anchor="end">2023-03-17</text><text transform="translate(760,972) rotate(-90)" text-anchor="end">2023-04-17</text><text transform="translate(770,972) rotate(-90)" text-anchor="end">2023-05-17</text><text transform="translate(779,972) rotate(-90)" text-anchor="end">2023-06-17</text><text transform="translate(789,972) rotate(-90)" text-anchor="end">2023-07-17</text><text transform="translate(798,972) rotate(-90)" text-anchor="end">2023-08-17</text><text transform="translate(807,972) rotate(-90)" text-anchor="end">2023-09-17</text><text transform="translate(817,972) rotate(-90)" text-anchor="end">2023-10-17</text><text transform="translate(826,972) rotate(-90)" text-anchor="end">2023-11-17</text><text transform="translate(836,972) rotate(-90)" text-anchor="end">2023-12-17</text><text transform="translate(845,972) rotate(-90)" text-anchor="end">2024-01-17</text><text transform="translate(854,972) rotate(-90)" text-anchor="end">2024-02-17</text><text transform="translate(864,972) rotate(-90)" text-anchor="end">2024-03-17</text><text transform="translate(873,972) rotate(-90)" text-anchor="end">2024-04-17</text><text transform="translate(883,972) rotate(-90)" text-anchor="end">2024-05-17</text><text transform="translate(892,972) rotate(-90)" text-anchor="end">2024-06-17</text><text transform="translate(901,972) rotate(-90)" text-anchor="end">2024-07-17</text><text transform="translate(911,972) rotate(-90)" text-anchor="end">2024-08-17</text><text transform="translate(920,972) rotate(-90)" text-anchor="end">2024-09-17</text><text transform="translate(930,972) rotate(-90)" text-anchor="end">2024-10-17</text><text transform="translate(939,972) rotate(-90)" text-anchor="end">2024-11-17</text><text transform="translate(948,972) rotate(-90)" text-anchor="end">2024-12-17</text><text transform="translate(958,972) rotate(-90)" text-anchor="end">2025-01-17</text><text transform="translate(967,972) rotate(-90)" text-anchor="end">2025-02-17</text>
</g>
<rect x="680" y="1022" width="15" height="5" fill="#A5A5A5"/><text class="l" x="697" y="1027">期货收盘价(5月交割连续):纯碱:-期货收盘价(9月交割连续):纯碱</text>
<line x1="680" y1="1038" x2="695" y2="1038" stroke="#5B9BD5" stroke-width="2"/><text class="l" x="697" y="1041">期货收盘价(5月交割连续):纯碱</text>
<line x1="680" y1="1052" x2="695" y2="1052" stroke="#ED7D31" stroke-width="2"/><text class="l" x="697" y="1055">期货收盘价(9月交割连续):纯碱</text>

<!-- ===== Chart 7 ===== -->
<text class="ct" x="317" y="1163" text-anchor="middle">汽车用玻璃</text>
<g class="g"><line x1="130" x2="488" y1="1179" y2="1179"/><line x1="130" x2="488" y1="1199" y2="1199"/><line x1="130" x2="488" y1="1219" y2="1219"/><line x1="130" x2="488" y1="1238" y2="1238"/><line x1="130" x2="488" y1="1258" y2="1258"/><line x1="130" x2="488" y1="1278" y2="1278"/><line x1="130" x2="488" y1="1298" y2="1298"/><line x1="130" x2="488" y1="1317" y2="1317"/><line x1="130" x2="488" y1="1337" y2="1337"/></g>
<g class="a" text-anchor="end"><text x="125" y="1181">400</text><text x="125" y="1201">350</text><text x="125" y="1221">300</text><text x="125" y="1240">250</text><text x="125" y="1260">200</text><text x="125" y="1280">150</text><text x="125" y="1300">100</text><text x="125" y="1319">50</text><text x="125" y="1339">0</text></g>
<g class="a"><text x="495" y="1181">80.00</text><text x="495" y="1204">60.00</text><text x="495" y="1226">40.00</text><text x="495" y="1249">20.00</text><text x="495" y="1272">0.00</text><text x="495" y="1294">-20.00</text><text x="495" y="1317">-40.00</text><text x="495" y="1339">-60.00</text></g>
<polyline class="ln" stroke="#5B9BD5" points="135,1240 140,1247 148,1253 155,1256 162,1262 170,1268 177,1250 185,1245 192,1230 199,1219 206,1225 213,1232 220,1240 227,1248 235,1310 242,1280 249,1247 256,1240 263,1240 270,1226 277,1235 284,1242 291,1240 298,1238 305,1236 312,1235 320,1233 327,1256 334,1240 341,1250 348,1240 355,1233 362,1234 369,1222 376,1225 383,1220 390,1216 397,1218 404,1221 411,1225 418,1230 425,1244 432,1244 439,1232 446,1245 453,1238 460,1228 467,1220 474,1215 480,1197 488,1195"/>
<polyline class="ln" stroke="#ED7D31" points="135,1188 140,1260 148,1270 155,1280 162,1284 170,1288 177,1283 185,1275 192,1276 199,1264 206,1268 213,1270 220,1273 227,1275 235,1318 242,1280 249,1245 256,1235 263,1230 270,1222 277,1235 284,1245 291,1278 298,1287 305,1276 312,1264 320,1254 327,1232 334,1265 341,1270 348,1262 355,1265 362,1268 369,1260 376,1258 383,1250 390,1240 397,1245 404,1252 411,1258 418,1260 425,1250 432,1266 439,1266 446,1270 453,1270 460,1266 467,1260 474,1252 480,1250 488,1250"/>
<g class="a" text-anchor="end">
<text transform="translate(137,1343) rotate(-45)">2021-03</text><text transform="translate(152,1343) rotate(-45)">2021-05</text><text transform="translate(168,1343) rotate(-45)">2021-07</text><text transform="translate(183,1343) rotate(-45)">2021-09</text><text transform="translate(198,1343) rotate(-45)">2021-11</text><text transform="translate(214,1343) rotate(-45)">2022-01</text><text transform="translate(229,1343) rotate(-45)">2022-03</text><text transform="translate(244,1343) rotate(-45)">2022-05</text><text transform="translate(259,1343) rotate(-45)">2022-07</text><text transform="translate(275,1343) rotate(-45)">2022-09</text><text transform="translate(290,1343) rotate(-45)">2022-11</text><text transform="translate(305,1343) rotate(-45)">2023-01</text><text transform="translate(321,1343) rotate(-45)">2023-03</text><text transform="translate(336,1343) rotate(-45)">2023-05</text><text transform="translate(351,1343) rotate(-45)">2023-07</text><text transform="translate(367,1343) rotate(-45)">2023-09</text><text transform="translate(382,1343) rotate(-45)">2023-11</text><text transform="translate(397,1343) rotate(-45)">2024-01</text><text transform="translate(413,1343) rotate(-45)">2024-03</text><text transform="translate(428,1343) rotate(-45)">2024-05</text><text transform="translate(443,1343) rotate(-45)">2024-07</text><text transform="translate(459,1343) rotate(-45)">2024-09</text><text transform="translate(474,1343) rotate(-45)">2024-11</text>
</g>
<line x1="225" y1="1385" x2="240" y2="1385" stroke="#5B9BD5" stroke-width="2"/><text class="l" x="242" y="1388">产量:汽车:当月值</text>
<line x1="322" y1="1385" x2="337" y2="1385" stroke="#ED7D31" stroke-width="2"/><text class="l" x="339" y="1388">产量:汽车:当月同比</text>

<!-- ===== Chart 8 ===== -->
<text class="ct" x="792" y="1170" text-anchor="middle">建筑用玻璃</text>
<g class="g"><line x1="605" x2="965" y1="1185" y2="1185"/><line x1="605" x2="965" y1="1203" y2="1203"/><line x1="605" x2="965" y1="1221" y2="1221"/><line x1="605" x2="965" y1="1239" y2="1239"/><line x1="605" x2="965" y1="1257" y2="1257"/><line x1="605" x2="965" y1="1275" y2="1275"/><line x1="605" x2="965" y1="1292" y2="1292"/><line x1="605" x2="965" y1="1310" y2="1310"/><line x1="605" x2="965" y1="1328" y2="1328"/><line x1="605" x2="965" y1="1346" y2="1346"/></g>
<g class="a" text-anchor="end"><text x="600" y="1187">104</text><text x="600" y="1205">102</text><text x="600" y="1223">100</text><text x="600" y="1241">98</text><text x="600" y="1259">96</text><text x="600" y="1277">94</text><text x="600" y="1294">92</text><text x="600" y="1312">90</text><text x="600" y="1330">88</text><text x="600" y="1348">86</text></g>
<g class="a"><text x="972" y="1187">80.00</text><text x="972" y="1210">60.00</text><text x="972" y="1233">40.00</text><text x="972" y="1256">20.00</text><text x="972" y="1279">0.00</text><text x="972" y="1302">-20.00</text><text x="972" y="1325">-40.00</text><text x="972" y="1348">-60.00</text></g>
<polyline class="ln" stroke="#A5A5A5" points="607,1275 612,1250 617,1228 622,1245 630,1252 637,1258 645,1250 655,1250 665,1252 672,1258 680,1262 690,1265 700,1283 710,1290 720,1293 730,1300 740,1303 750,1302 760,1300 770,1298 778,1298 783,1285 790,1270 800,1262 810,1258 818,1255 830,1255 840,1254 850,1256 860,1255 870,1256 878,1258 885,1280 890,1298 900,1300 920,1302 940,1302 955,1306 965,1310"/>
<polyline class="ln" stroke="#ED7D31" points="607,1275 612,1228 617,1205 622,1230 628,1258 635,1262 645,1270 655,1275 665,1276 675,1282 690,1284 700,1270 710,1290 718,1308 730,1315 740,1318 755,1320 770,1322 785,1323 790,1276 795,1290 800,1300 815,1302 830,1304 850,1305 865,1303 875,1300 883,1278 888,1310 895,1308 910,1303 930,1302 945,1303 965,1304"/>
<polyline class="ln" stroke="#5B9BD5" points="607,1210 612,1205 618,1205 630,1207 650,1210 670,1214 690,1216 700,1250 705,1250 715,1252 720,1257 730,1260 745,1263 760,1266 775,1270 785,1272 795,1271 805,1268 815,1267 825,1270 835,1275 850,1278 870,1280 880,1282 885,1290 895,1292 910,1292 930,1290 950,1288 965,1284"/>
<g class="a" text-anchor="end">
<text transform="translate(609,1352) rotate(-45)">2021-01</text><text transform="translate(624,1352) rotate(-45)">2021-03</text><text transform="translate(640,1352) rotate(-45)">2021-05</text><text transform="translate(655,1352) rotate(-45)">2021-07</text><text transform="translate(671,1352) rotate(-45)">2021-09</text><text transform="translate(686,1352) rotate(-45)">2021-11</text><text transform="translate(702,1352) rotate(-45)">2022-01</text><text transform="translate(717,1352) rotate(-45)">2022-03</text><text transform="translate(733,1352) rotate(-45)">2022-05</text><text transform="translate(748,1352) rotate(-45)">2022-07</text><text transform="translate(764,1352) rotate(-45)">2022-09</text><text transform="translate(779,1352) rotate(-45)">2022-11</text><text transform="translate(795,1352) rotate(-45)">2023-01</text><text transform="translate(810,1352) rotate(-45)">2023-03</text><text transform="translate(826,1352) rotate(-45)">2023-05</text><text transform="translate(841,1352) rotate(-45)">2023-07</text><text transform="translate(857,1352) rotate(-45)">2023-09</text><text transform="translate(872,1352) rotate(-45)">2023-11</text><text transform="translate(888,1352) rotate(-45)">2024-01</text><text transform="translate(903,1352) rotate(-45)">2024-03</text><text transform="translate(919,1352) rotate(-45)">2024-05</text><text transform="translate(934,1352) rotate(-45)">2024-07</text><text transform="translate(950,1352) rotate(-45)">2024-09</text><text transform="translate(965,1352) rotate(-45)">2024-11</text>
</g>
<line x1="644" y1="1392" x2="659" y2="1392" stroke="#5B9BD5" stroke-width="2"/><text class="l" x="661" y="1395">国房景气指数</text>
<line x1="724" y1="1392" x2="739" y2="1392" stroke="#ED7D31" stroke-width="2"/><text class="l" x="741" y="1395">房屋新开工面积:累计同比</text>
<line x1="847" y1="1392" x2="862" y2="1392" stroke="#A5A5A5" stroke-width="2"/><text class="l" x="864" y="1395">房屋竣工面积:累计同比</text>
</svg>
</body></html>
